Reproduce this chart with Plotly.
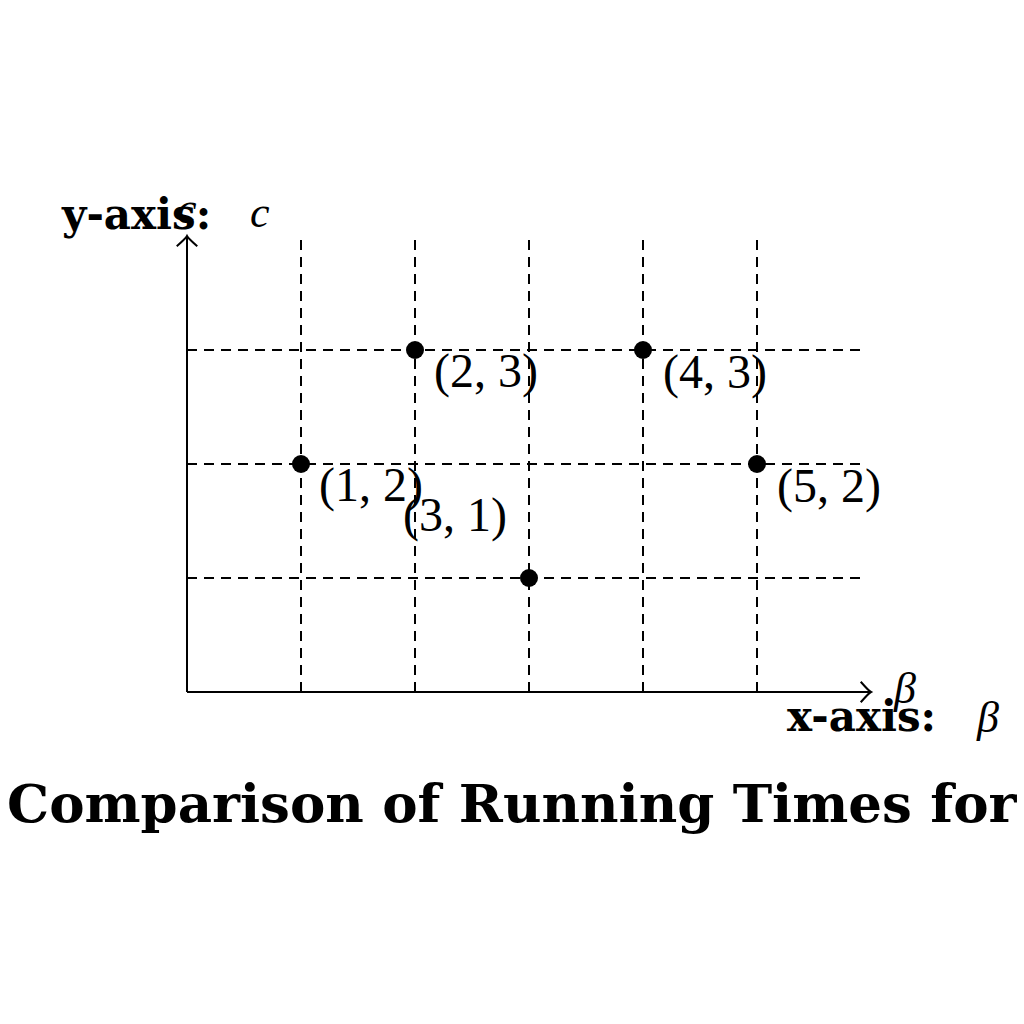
import plotly.graph_objects as go

# ---- data ----
xs = [1, 2, 3, 4, 5]
ys = [2, 3, 1, 3, 2]
point_labels = ["(1, 2)", "(2, 3)", "(3, 1)", "(4, 3)", "(5, 2)"]
grid_x = [1, 2, 3, 4, 5]
grid_y = [1, 2, 3]
title_text = "Comparison of Running Times for"
x_label = "x-axis:"
y_label = "y-axis:"
x_sym = "β"
y_sym = "c"

# placement of each point label: (xanchor, xshift, yshift)
label_place = [("left", 16, -21), ("left", 17, -21), ("right", -20, 63),
               ("left", 18, -22), ("left", 18, -22)]

PX = 114.0  # pixels per unit
X0, Y0 = 187, 692
xr = [-X0 / PX, (1024 - X0) / PX]
yr = [-(1024 - Y0) / PX, Y0 / PX]

XMAX, YMAX = 6.0, 4.0
GX_END, GY_END = 5.95, 3.98

fig = go.Figure()
dash = "10px,7px"
for gx in grid_x:
    fig.add_shape(type="line", x0=gx, x1=gx, y0=0, y1=GY_END, xref="x", yref="y",
                  line=dict(color="black", width=2, dash=dash))
for gy in grid_y:
    fig.add_shape(type="line", x0=0, x1=GX_END, y0=gy, y1=gy, xref="x", yref="y",
                  line=dict(color="black", width=2, dash=dash))

# axes
fig.add_shape(type="line", x0=0, x1=XMAX, y0=0, y1=0, line=dict(color="black", width=2))
fig.add_shape(type="line", x0=0, x1=0, y0=0, y1=YMAX, line=dict(color="black", width=2))
ah = 0.09
fig.add_shape(type="path",
              path=f"M {XMAX-ah},{ah} Q {XMAX-0.02},{0.01} {XMAX},0 Q {XMAX-0.02},{-0.01} {XMAX-ah},{-ah}",
              line=dict(color="black", width=2))
fig.add_shape(type="path",
              path=f"M {-ah},{YMAX-ah} Q {-0.01},{YMAX-0.02} 0,{YMAX} Q {0.01},{YMAX-0.02} {ah},{YMAX-ah}",
              line=dict(color="black", width=2))

fig.add_trace(go.Scatter(x=xs, y=ys, mode="markers",
                         marker=dict(color="black", size=18), showlegend=False,
                         hoverinfo="skip"))

mathfont = dict(family="Liberation Serif", size=48, color="black")
for x, y, t, (xa, xsft, ysft) in zip(xs, ys, point_labels, label_place):
    fig.add_annotation(x=x, y=y, text=t, showarrow=False, xanchor=xa, yanchor="middle",
                       xshift=xsft, yshift=ysft, font=mathfont)

boldfont = dict(family="DejaVu Serif", size=42, color="black")
italfont = dict(family="Liberation Serif", size=44, color="black")
# y-axis label
fig.add_annotation(x=0, y=YMAX, text=f"<b>{y_label}</b>", showarrow=False,
                   xanchor="left", yanchor="middle", xshift=-128, yshift=22, font=boldfont)
fig.add_annotation(x=0, y=YMAX, text=f"<i>{y_sym}</i>", showarrow=False,
                   xanchor="left", yanchor="middle", xshift=61, yshift=24, font=italfont)
fig.add_annotation(x=0, y=YMAX, text=f"<i>{y_sym}</i>", showarrow=False,
                   xanchor="center", yanchor="middle", xshift=0, yshift=28, font=italfont)
# x-axis label
fig.add_annotation(x=XMAX, y=0, text=f"<b>{x_label}</b>", showarrow=False,
                   xanchor="left", yanchor="middle", xshift=-86, yshift=-24, font=boldfont)
fig.add_annotation(x=XMAX, y=0, text=f"<i>{x_sym}</i>", showarrow=False,
                   xanchor="left", yanchor="middle", xshift=103, yshift=-25, font=italfont)
fig.add_annotation(x=XMAX, y=0, text=f"<i>{x_sym}</i>", showarrow=False,
                   xanchor="left", yanchor="middle", xshift=20, yshift=4, font=italfont)

# title
fig.add_annotation(x=0.5, y=(692 - 803) / PX, xref="paper", yref="y", text=f"<b>{title_text}</b>",
                   showarrow=False, xanchor="center", yanchor="middle",
                   font=dict(family="DejaVu Serif", size=53, color="black"))

fig.update_layout(
    width=1024, height=1024, autosize=False,
    margin=dict(l=0, r=0, t=0, b=0),
    paper_bgcolor="white", plot_bgcolor="white",
    xaxis=dict(range=xr, visible=False, fixedrange=True),
    yaxis=dict(range=yr, visible=False, fixedrange=True),
    showlegend=False,
)
fig.write_html("out.html")
